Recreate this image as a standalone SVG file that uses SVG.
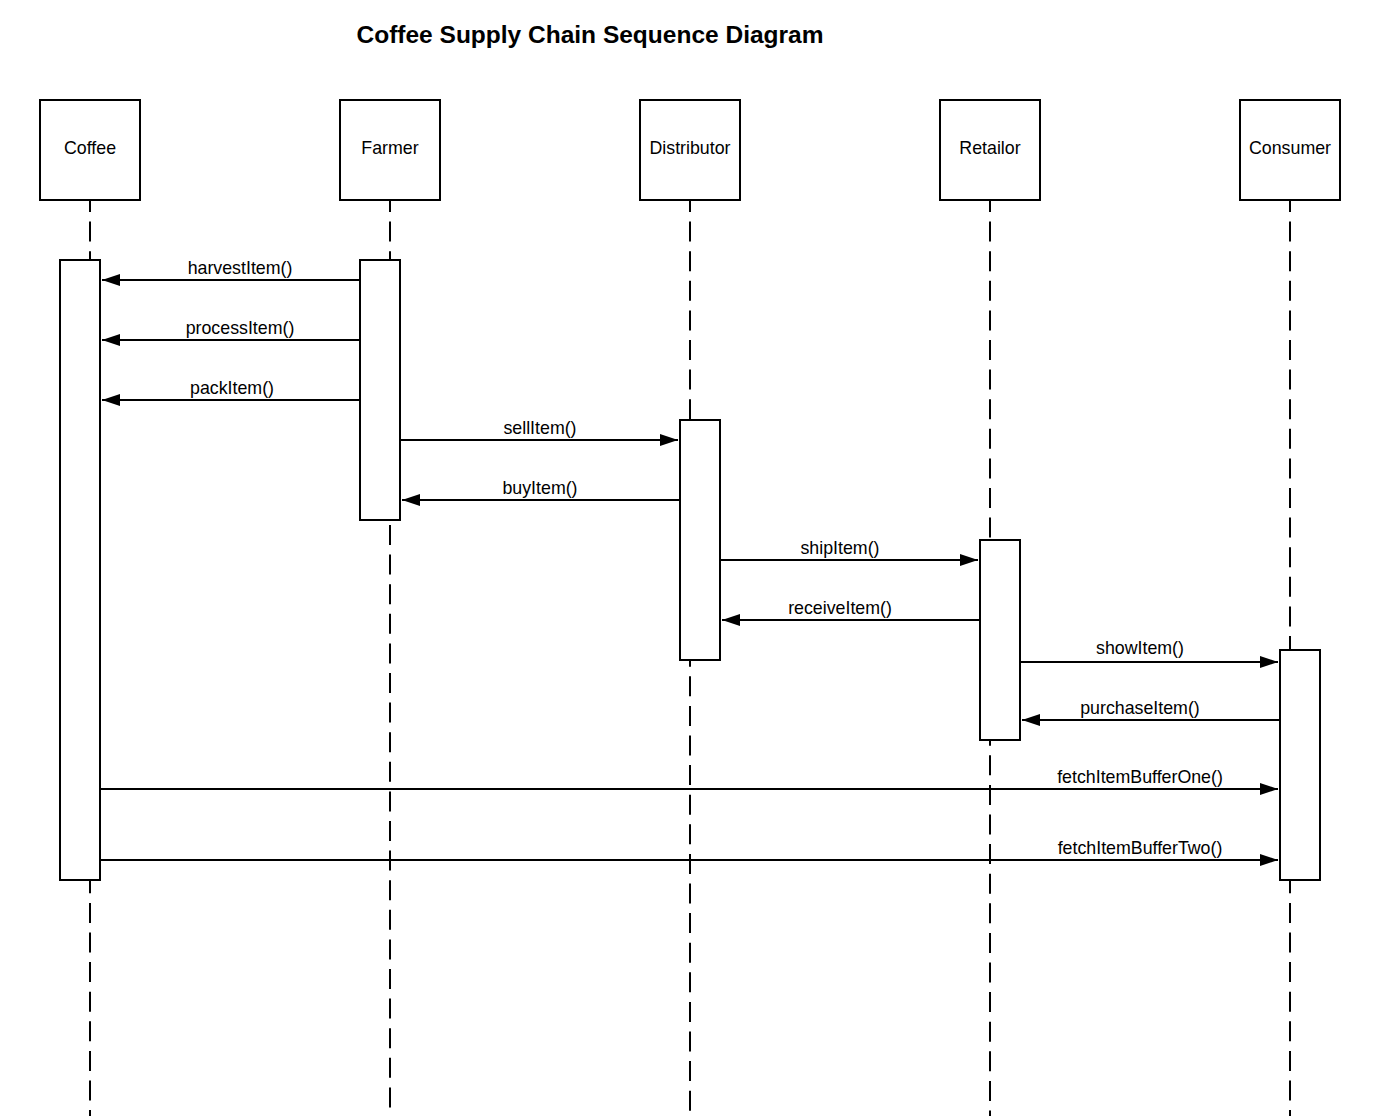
<svg xmlns="http://www.w3.org/2000/svg" width="1380" height="1116" viewBox="0 0 1380 1116">
  <style>
    text { font-family: "Liberation Sans", Arial, sans-serif; fill: #000; }
    .title { font-size: 24.5px; font-weight: bold; text-anchor: middle; }
    .lbl { font-size: 17.8px; text-anchor: middle; }
    .box { fill: #fff; stroke: #000; stroke-width: 2; }
    .life { stroke: #000; stroke-width: 2; fill: none; stroke-dasharray: 20 9.6; }
    .msg { stroke: #000; stroke-width: 2; fill: none; marker-end: url(#arr); }
  </style>
  <defs>
    <marker id="arr" markerUnits="userSpaceOnUse" markerWidth="18" markerHeight="12" refX="18" refY="6" orient="auto">
      <path d="M0,0 L18,6 L0,12 Z" fill="#000"/>
    </marker>
  </defs>
  <rect width="1380" height="1116" fill="#fff"/>
  <text class="title" x="590" y="43">Coffee Supply Chain Sequence Diagram</text>

  <g id="lifelines">
    <line class="life" x1="90" y1="200" x2="90" y2="260" stroke-dashoffset="8"/>
    <line class="life" x1="90" y1="880" x2="90" y2="1116" stroke-dashoffset="6.7"/>
    <line class="life" x1="390" y1="200" x2="390" y2="260" stroke-dashoffset="8"/>
    <line class="life" x1="390" y1="520" x2="390" y2="1116" stroke-dashoffset="24.6"/>
    <line class="life" x1="690" y1="200" x2="690" y2="420" stroke-dashoffset="8"/>
    <line class="life" x1="690" y1="660" x2="690" y2="1116" stroke-dashoffset="13.3"/>
    <line class="life" x1="990" y1="200" x2="990" y2="540" stroke-dashoffset="8"/>
    <line class="life" x1="990" y1="740" x2="990" y2="1116" stroke-dashoffset="14.3"/>
    <line class="life" x1="1290" y1="200" x2="1290" y2="650" stroke-dashoffset="8"/>
    <line class="life" x1="1290" y1="880" x2="1290" y2="1116" stroke-dashoffset="6.7"/>
  </g>

  <g id="coffee">
    <rect class="box" x="40" y="100" width="100" height="100"/>
    <text class="lbl" x="90" y="154">Coffee</text>
    <rect class="box" x="60" y="260" width="40" height="620"/>
  </g>
  <g id="farmer">
    <rect class="box" x="340" y="100" width="100" height="100"/>
    <text class="lbl" x="390" y="154">Farmer</text>
    <rect class="box" x="360" y="260" width="40" height="260"/>
  </g>
  <g id="distributor">
    <rect class="box" x="640" y="100" width="100" height="100"/>
    <text class="lbl" x="690" y="154">Distributor</text>
    <rect class="box" x="680" y="420" width="40" height="240"/>
  </g>
  <g id="retailor">
    <rect class="box" x="940" y="100" width="100" height="100"/>
    <text class="lbl" x="990" y="154">Retailor</text>
    <rect class="box" x="980" y="540" width="40" height="200"/>
  </g>
  <g id="consumer">
    <rect class="box" x="1240" y="100" width="100" height="100"/>
    <text class="lbl" x="1290" y="154">Consumer</text>
    <rect class="box" x="1280" y="650" width="40" height="230"/>
  </g>

  <g id="connectors">
    <line class="msg" x1="360" y1="280" x2="102" y2="280"/>
    <text class="lbl" x="240" y="274">harvestItem()</text>
    <line class="msg" x1="360" y1="340" x2="102" y2="340"/>
    <text class="lbl" x="240" y="334">processItem()</text>
    <line class="msg" x1="360" y1="400" x2="102" y2="400"/>
    <text class="lbl" x="232" y="394">packItem()</text>
    <line class="msg" x1="400" y1="440" x2="678" y2="440"/>
    <text class="lbl" x="540" y="434">sellItem()</text>
    <line class="msg" x1="680" y1="500" x2="402" y2="500"/>
    <text class="lbl" x="540" y="494">buyItem()</text>
    <line class="msg" x1="720" y1="560" x2="978" y2="560"/>
    <text class="lbl" x="840" y="554">shipItem()</text>
    <line class="msg" x1="980" y1="620" x2="722" y2="620"/>
    <text class="lbl" x="840" y="614">receiveItem()</text>
    <line class="msg" x1="1020" y1="662" x2="1278" y2="662"/>
    <text class="lbl" x="1140" y="654">showItem()</text>
    <line class="msg" x1="1280" y1="720" x2="1022" y2="720"/>
    <text class="lbl" x="1140" y="714">purchaseItem()</text>
    <line class="msg" x1="100" y1="789" x2="1278" y2="789"/>
    <text class="lbl" x="1140" y="783">fetchItemBufferOne()</text>
    <line class="msg" x1="100" y1="860" x2="1278" y2="860"/>
    <text class="lbl" x="1140" y="854">fetchItemBufferTwo()</text>
  </g>
</svg>
